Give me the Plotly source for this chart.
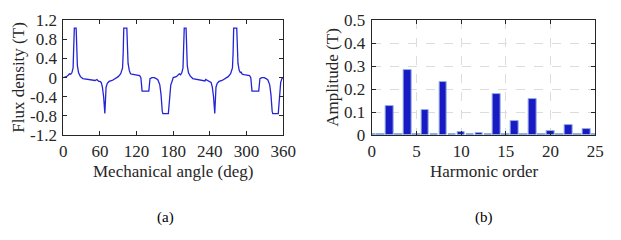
import plotly.graph_objects as go

# ---- data: panel (a) flux density waveform ----
angle_deg = [0, 5, 8, 10, 12, 14, 16, 17, 18, 21, 22, 23, 25, 28, 32, 40, 48, 52, 55, 58, 60, 62, 64, 66, 68, 69, 70, 72, 75, 80, 85, 90, 94, 97, 98, 99, 104, 105, 106, 108, 110, 112, 115, 120, 125, 127, 128, 129, 140, 141, 142, 145, 149, 152, 155, 158, 160, 162, 163, 172, 173, 174, 176, 178,
             180, 185, 188, 190, 192, 194, 196, 197, 198, 201, 202, 203, 205, 208, 212, 220, 228, 232, 233, 236, 240, 242, 244, 246, 248, 249, 250, 252, 255, 260, 265, 270, 274, 277, 278, 279, 284, 285, 286, 288, 290, 291, 293, 296, 300, 305, 307, 308, 309, 320, 321, 322, 325, 329, 332, 335, 338, 340, 342, 343, 352, 353, 354, 356, 358, 360]
flux_T = [0.0, 0.02, 0.05, 0.08, 0.07, 0.1, 0.2, 0.6, 1.03, 1.03, 0.6, 0.25, 0.1, 0.02, -0.02, -0.04, -0.05, -0.06, -0.04, -0.08, -0.08, -0.1, -0.2, -0.4, -0.75, -0.5, -0.2, -0.12, -0.08, -0.06, -0.02, 0.02, 0.08, 0.2, 0.5, 1.03, 1.03, 0.6, 0.3, 0.15, 0.08, 0.07, 0.06, 0.05, 0.04, 0.0, -0.1, -0.28, -0.28, -0.15, -0.02, 0.0, 0.0, -0.02, -0.05, -0.15, -0.35, -0.7, -0.75, -0.75, -0.6, -0.3, -0.15, -0.08,
          0.0, 0.02, 0.05, 0.08, 0.06, 0.1, 0.2, 0.6, 1.03, 1.03, 0.6, 0.25, 0.1, 0.03, -0.02, -0.04, -0.05, -0.07, -0.04, -0.06, -0.08, -0.1, -0.2, -0.4, -0.75, -0.5, -0.2, -0.12, -0.08, -0.06, -0.02, 0.02, 0.08, 0.2, 0.5, 1.03, 1.03, 0.6, 0.3, 0.15, 0.1, 0.12, 0.07, 0.06, 0.05, 0.04, 0.0, -0.1, -0.28, -0.28, -0.15, -0.02, 0.0, 0.0, -0.02, -0.05, -0.15, -0.35, -0.7, -0.75, -0.75, -0.6, -0.3, -0.1, -0.02, 0.0]

# ---- data: panel (b) harmonic spectrum ----
harmonic_order = list(range(0, 26))
amplitude_T = [0.003, 0.003, 0.125, 0.003, 0.282, 0.003, 0.108, 0.003, 0.232, 0.003, 0.015, 0.003, 0.010,
               0.003, 0.177, 0.003, 0.062, 0.006, 0.158, 0.003, 0.018, 0.003, 0.042, 0.003, 0.027, 0.003]

x_ticks_a = [0, 60, 120, 180, 240, 300, 360]
y_ticks_a = [-1.2, -0.8, -0.4, 0, 0.4, 0.8, 1.2]
y_ticks_a_text = ["-1.2", "-0.8", "-0.4", "0", "0.4", "0.8", "1.2"]
x_ticks_b = [0, 5, 10, 15, 20, 25]
y_ticks_b = [0, 0.1, 0.2, 0.3, 0.4, 0.5]
y_ticks_b_text = ["0", "0.1", "0.2", "0.3", "0.4", "0.5"]

W, H = 621, 240
FONT = "Liberation Serif, Times New Roman, serif"
TXT = "#262626"


def px_x(p):
    return p / W


def px_y(p):
    return 1 - p / H


fig = go.Figure()
fig.add_trace(go.Scatter(x=angle_deg, y=flux_T, mode="lines",
                         line=dict(color="#2424d6", width=1.3), xaxis="x", yaxis="y",
                         showlegend=False))
fig.add_trace(go.Bar(x=harmonic_order, y=amplitude_T, width=0.85,
                     marker=dict(color="#1a1ac4", line=dict(color="#8fb0e0", width=1)),
                     xaxis="x2", yaxis="y2", showlegend=False))

ydom = [px_y(137), px_y(12)]
common = dict(showline=True, linecolor=TXT, linewidth=1, mirror="ticks", ticks="inside",
              ticklen=4, tickcolor=TXT, zeroline=False, ticklabeloverflow="allow",
              tickfont=dict(family=FONT, size=17, color=TXT))
tfont = dict(family=FONT, size=17, color=TXT)
lab = dict(xref="paper", yref="paper", showarrow=False, xanchor="center", yanchor="middle")

fig.update_layout(
    width=W, height=H, margin=dict(l=0, r=0, t=0, b=0),
    paper_bgcolor="white", plot_bgcolor="white",
    bargap=0,
    xaxis=dict(domain=[px_x(61), px_x(287)], range=[0, 360], tickvals=x_ticks_a, showgrid=False,
               anchor="y", **common),
    yaxis=dict(domain=ydom, range=[-1.2, 1.2], tickvals=y_ticks_a, ticktext=y_ticks_a_text, showgrid=False,
               ticklabelstandoff=2, anchor="x", **common),
    xaxis2=dict(domain=[px_x(378), px_x(608)], range=[0, 25], tickvals=x_ticks_b,
                showgrid=True, gridcolor="#dcdcdc", griddash="dash", gridwidth=1,
                anchor="y2", **common),
    yaxis2=dict(domain=ydom, range=[0, 0.5], tickvals=y_ticks_b, ticktext=y_ticks_b_text,
                showgrid=True, gridcolor="#dcdcdc", griddash="dash", gridwidth=1,
                ticklabelstandoff=2, anchor="x2", **common),
    annotations=[
        dict(text="Mechanical angle (deg)", x=px_x(174), y=px_y(176), font=tfont, **lab),
        dict(text="Flux density (T)", x=px_x(14.5), y=px_y(74.5), textangle=-90, font=tfont, **lab),
        dict(text="Harmonic order", x=px_x(493), y=px_y(176), font=tfont, **lab),
        dict(text="Amplitude (T)", x=px_x(337.5), y=px_y(74.5), textangle=-90, font=tfont, **lab),
        dict(text="(a)", x=px_x(166), y=px_y(226.5), font=dict(family=FONT, size=15, color="black"), **lab),
        dict(text="(b)", x=px_x(493), y=px_y(226.5), font=dict(family=FONT, size=15, color="black"), **lab),
    ],
)

fig.write_html("out.html", config={"displayModeBar": False},
               post_script="document.body.style.margin='0px';")
